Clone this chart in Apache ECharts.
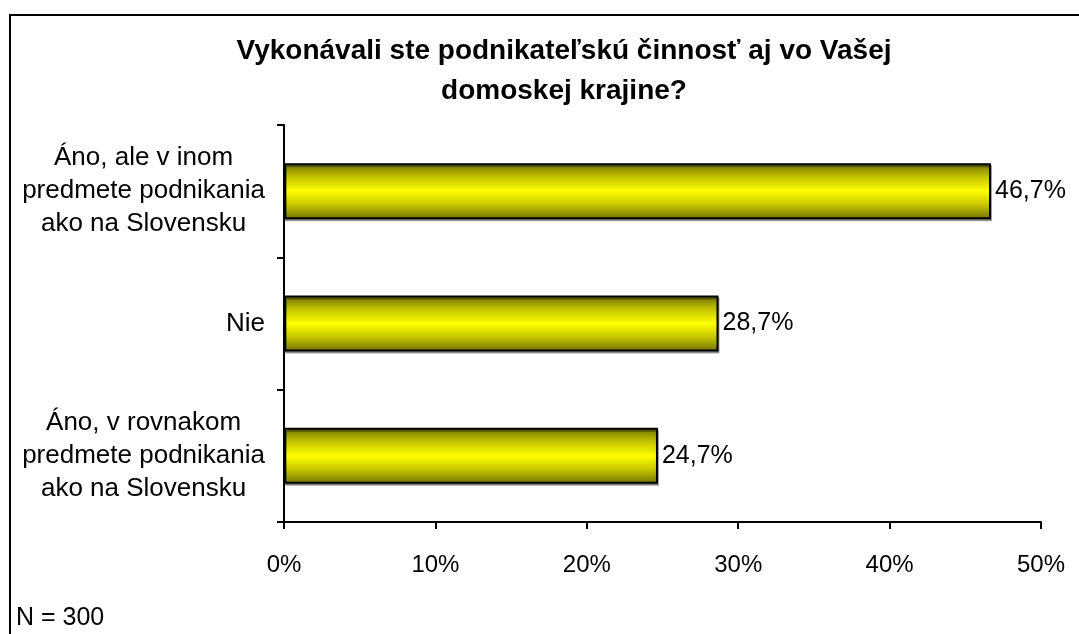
<!DOCTYPE html>
<html>
<head>
<meta charset="utf-8">
<script src="https://cdn.jsdelivr.net/npm/echarts@6/dist/echarts.min.js"></script>
<style>
  html, body { margin: 0; padding: 0; background: #fff; }
  #chart { width: 1079px; height: 634px; }
</style>
</head>
<body>
<div id="chart"></div>
<script>
// odpovede zhora nadol
const categories = [
  'Áno, ale v inom\npredmete podnikania\nako na Slovensku',
  'Nie',
  'Áno, v rovnakom\npredmete podnikania\nako na Slovensku'
];
const values = [46.7, 28.7, 24.7];
const xTicks = [0, 10, 20, 30, 40, 50];

const font = '"Liberation Sans", Arial, sans-serif';
const chart = echarts.init(document.getElementById('chart'));

// riadky popisu centrovane v bloku, blok zarovnany vpravo
function catLabel(v) {
  return v.split('\n').map(s => '{c|' + s + '}').join('\n');
}

const barColor = new echarts.graphic.LinearGradient(0, 0, 0, 1, [
  { offset: 0, color: '#707000' },
  { offset: 0.25, color: '#c4c400' },
  { offset: 0.5, color: '#ffff00' },
  { offset: 0.75, color: '#c4c400' },
  { offset: 1, color: '#707000' }
]);

chart.setOption({
  animation: false,
  title: {
    text: 'Vykonávali ste podnikateľskú činnosť aj vo Vašej\ndomoskej krajine?',
    left: 559,
    top: 26,
    textAlign: 'center',
    textStyle: {
      fontFamily: font,
      fontSize: 28,
      fontWeight: 'bold',
      color: '#000',
      lineHeight: 40
    }
  },
  graphic: [
    {
      type: 'rect',
      shape: { x: 10, y: 15, width: 1090, height: 640 },
      style: { fill: 'none', stroke: '#000', lineWidth: 2 },
      z: -1
    },
    {
      type: 'text',
      left: 16,
      top: 606,
      style: { text: 'N = 300', font: '25px ' + font, fill: '#000' }
    }
  ],
  grid: { left: 284, right: 38, top: 125, bottom: 112 },
  xAxis: {
    type: 'value',
    min: 0,
    max: 50,
    interval: 10,
    axisLine: { show: true, lineStyle: { color: '#000', width: 2 } },
    axisTick: { show: true, length: 7, lineStyle: { color: '#000', width: 2 } },
    splitLine: { show: false },
    axisLabel: {
      margin: 31,
      fontFamily: font,
      fontSize: 24,
      color: '#000',
      formatter: v => xTicks.includes(v) ? v + '%' : ''
    }
  },
  yAxis: {
    type: 'category',
    inverse: true,
    data: categories,
    axisLine: { show: true, lineStyle: { color: '#000', width: 2 } },
    axisTick: { show: true, length: 7, lineStyle: { color: '#000', width: 2 } },
    axisLabel: {
      margin: 19,
      align: 'right',
      fontFamily: font,
      fontSize: 26,
      color: '#000',
      lineHeight: 33,
      formatter: catLabel,
      rich: {
        c: { align: 'center', fontFamily: font, fontSize: 26, color: '#000', lineHeight: 33 }
      }
    }
  },
  series: [{
    type: 'bar',
    data: values,
    barWidth: 56,
    itemStyle: {
      color: barColor,
      borderColor: '#000',
      borderWidth: 2,
      shadowColor: 'rgba(0,0,0,0.35)',
      shadowOffsetX: 1,
      shadowOffsetY: 2,
      shadowBlur: 0
    },
    label: {
      show: true,
      position: 'right',
      distance: 4,
      fontFamily: font,
      fontSize: 25,
      color: '#000',
      formatter: p => p.value.toFixed(1).replace('.', ',') + '%'
    }
  }]
});
</script>
</body>
</html>
